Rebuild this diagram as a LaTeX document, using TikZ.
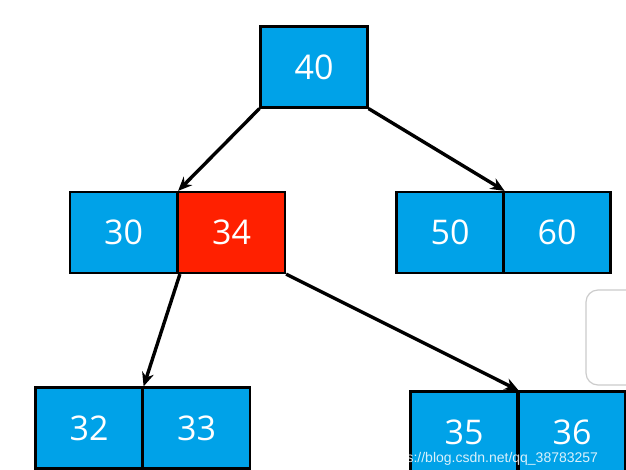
\documentclass[tikz,border=0pt]{standalone}
\usepackage{fontspec}
\setmainfont{Open Sans}
\newfontfamily\wmfont{Liberation Sans}
\usetikzlibrary{arrows.meta}
\definecolor{kblue}{RGB}{0,162,232}
\definecolor{kred}{RGB}{255,32,0}
\tikzset{
  key/.style={draw=black, line width=2.2pt, fill=kblue, text=white,
    minimum width=107pt, minimum height=81pt, inner sep=0pt,
    font=\fontsize{34}{34}\selectfont},
  hot/.style={key, fill=kred},
  link/.style={line width=3.4pt, -{Stealth[length=14pt,width=12pt]}}
}
\begin{document}
\begin{tikzpicture}[x=1pt,y=-1pt]
\useasboundingbox (0,0) rectangle (626,469);
\fill[white] (0,0) rectangle (626,469);
% overlay at right edge
\draw[black!20, fill=white, line width=1.2pt, rounded corners=12pt] (586,290) rectangle (640,385);
% nodes
\node[key] (n40) at (314,67) {40};
\node[key] (n30) at (123.5,232.5) {30};
\node[hot] (n34) at (231.5,232.5) {34};
\node[key] (n50) at (450,232.5) {50};
\node[key] (n60) at (557,232.5) {60};
\node[key] (n32) at (89,428) {32};
\node[key] (n33) at (196.5,428) {33};
\node[key] (n35) at (464,432) {35};
\node[key] (n36) at (572,432) {36};
% links
\draw[link] (n40.south west) -- (n30.north east);
\draw[link] (n40.south east) -- (n50.north east);
\draw[link] ([xshift=3pt]n34.south west) -- (n32.north east);
\draw[link] (n34.south east) -- (n35.north east);
% watermark
\node[text=white, opacity=0.85, font=\wmfont\fontsize{14}{14}\selectfont, anchor=base west, inner sep=0pt] (wm) at (383,462) {https://blog.csdn.net/qq\_38783257};
\end{tikzpicture}
\end{document}
